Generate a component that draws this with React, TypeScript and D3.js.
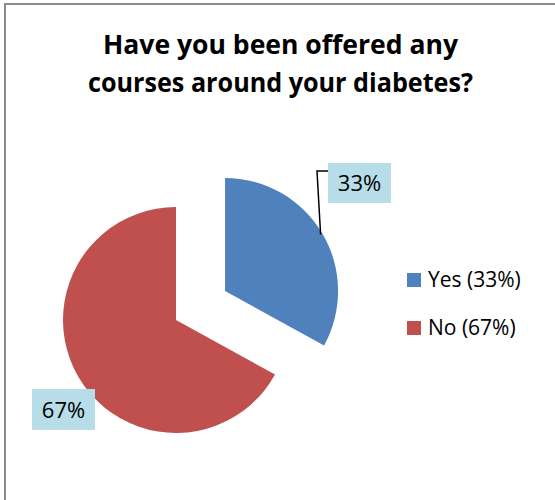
import React from 'react'
import * as d3 from 'd3'

// chart data
const categories: string[] = ['Yes', 'No']
const percents: number[] = [33, 67]
const colors: string[] = ['#4F81BD', '#C0504D']
const titleLines: string[] = ['Have you been offered any', 'courses around your diabetes?']

const W = 555
const H = 500
const FONT = '"Open Sans", Lato, sans-serif'

// pie positioning
const cx = 176
const cy = 320
const radius = 113
const explode = 57 // only the "Yes" slice is pulled out

const App = () => {
  const pie = d3.pie<number>().sort(null).startAngle(0).endAngle(2 * Math.PI)
  const arcs = pie(percents)
  const arc = d3.arc<d3.PieArcDatum<number>>().innerRadius(0).outerRadius(radius)

  const offsets = arcs.map((a, i) => {
    if (i !== 0) return [0, 0]
    const mid = (a.startAngle + a.endAngle) / 2
    return [Math.sin(mid) * explode, -Math.cos(mid) * explode]
  })

  // leader line for the "Yes" label
  const yesMid = (arcs[0].startAngle + arcs[0].endAngle) / 2
  const lx0 = cx + offsets[0][0] + Math.sin(yesMid) * (radius - 2)
  const ly0 = cy + offsets[0][1] - Math.cos(yesMid) * (radius - 2)

  const labelBoxes = [
    { x: 328, y: 163, w: 63, h: 40 },
    { x: 32, y: 389, w: 63, h: 41 }
  ]

  return (
    <svg width={W} height={H} style={{ position: 'absolute', left: 0, top: 0 }} fontFamily={FONT}>
      <rect x={0} y={0} width={W} height={H} fill='#ffffff' />
      <rect x={5} y={4} width={W + 10} height={H + 10} fill='none' stroke='#8c8c8c' strokeWidth={2} />

      {titleLines.map((t, i) => (
        <text
          key={t}
          x={W / 2 + 3}
          y={54 + i * 38}
          textAnchor='middle'
          fontWeight='bold'
          fontSize={27}
          fill='#000'
          textLength={i === 0 ? 355 : 385}
          lengthAdjust='spacingAndGlyphs'
        >
          {t}
        </text>
      ))}

      {arcs.map((a, i) => (
        <path
          key={categories[i]}
          d={arc(a) || ''}
          transform={`translate(${cx + offsets[i][0]}, ${cy + offsets[i][1]})`}
          fill={colors[i]}
        />
      ))}

      <polyline
        points={`${lx0},${ly0} ${317},${171} ${labelBoxes[0].x},${171}`}
        fill='none'
        stroke='#000'
        strokeWidth={1.5}
      />

      {labelBoxes.map((b, i) => (
        <g key={`lbl-${i}`}>
          <rect x={b.x} y={b.y} width={b.w} height={b.h} fill='#B7DEE8' />
          <text
            x={b.x + b.w / 2}
            y={b.y + b.h / 2 + 8}
            textAnchor='middle'
            fontSize={22}
            fill='#000'
          >
            {`${percents[i]}%`}
          </text>
        </g>
      ))}

      {categories.map((c, i) => (
        <g key={`leg-${c}`} transform={`translate(407, ${273 + i * 48})`}>
          <rect x={0} y={0} width={14} height={14} fill={colors[i]} />
          <text x={21} y={14} fontSize={21} fill='#000'>
            {`${c} (${percents[i]}%)`}
          </text>
        </g>
      ))}
    </svg>
  )
}

export default App
